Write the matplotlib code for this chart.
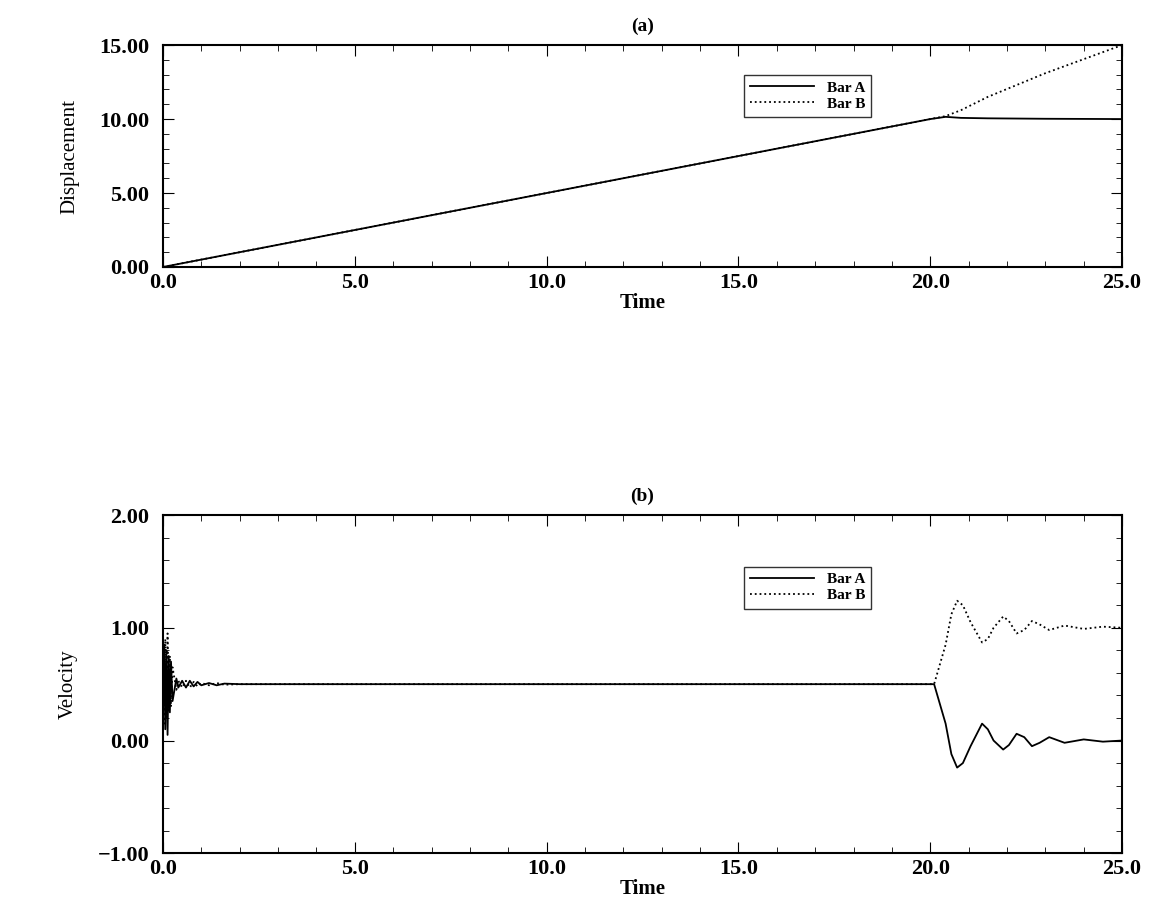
import matplotlib.pyplot as plt
from matplotlib.ticker import AutoMinorLocator

plt.rcParams['font.family'] = ['Liberation Serif', 'DejaVu Serif']
plt.rcParams['font.weight'] = 'bold'

# displacement
t_disp = [0.0, 5.0, 10.0, 15.0, 20.0, 20.4, 20.8, 21.5, 23.0, 25.0]
disp_a = [0.0, 2.5, 5.0, 7.5, 10.0, 10.15, 10.08, 10.05, 10.02, 10.0]
disp_b = [0.0, 2.5, 5.0, 7.5, 10.0, 10.2, 10.6, 11.5, 13.1, 15.0]

# velocity
t_vel = [0.0, 0.03, 0.06, 0.09, 0.12, 0.15, 0.18, 0.21, 0.25, 0.3, 0.35, 0.4, 0.5, 0.6, 0.7,
         0.8, 0.9, 1.0, 1.2, 1.4, 1.6, 2.0, 3.0, 20.1, 20.4, 20.55, 20.7, 20.85, 21.05, 21.35,
         21.5, 21.65, 21.9, 22.05, 22.25, 22.45, 22.65, 22.85, 23.1, 23.5, 24.0, 24.5, 25.0]
vel_a = [0.5, 0.85, 0.1, 0.8, 0.05, 0.75, 0.25, 0.7, 0.35, 0.45, 0.55, 0.47, 0.53, 0.47, 0.53,
         0.48, 0.52, 0.49, 0.51, 0.49, 0.505, 0.5, 0.5, 0.5, 0.15, -0.12, -0.24, -0.2, -0.05, 0.15,
         0.1, 0.0, -0.08, -0.04, 0.06, 0.03, -0.05, -0.02, 0.03, -0.02, 0.01, -0.01, 0.0]
vel_b = [0.5, 0.15, 0.9, 0.2, 0.95, 0.25, 0.75, 0.3, 0.65, 0.55, 0.45, 0.53, 0.47, 0.53, 0.47,
         0.52, 0.48, 0.51, 0.49, 0.51, 0.495, 0.5, 0.5, 0.5, 0.85, 1.12, 1.24, 1.2, 1.05, 0.87,
         0.9, 1.0, 1.1, 1.06, 0.95, 0.98, 1.06, 1.03, 0.98, 1.02, 0.99, 1.01, 1.0]

fig = plt.figure(figsize=(11.64, 9.02), dpi=100)
ax1 = fig.add_axes([0.140, 0.704, 0.824, 0.246])
ax2 = fig.add_axes([0.140, 0.054, 0.824, 0.375])

ax1.plot(t_disp, disp_a, 'k-', lw=1.3, label='Bar A')
ax1.plot(t_disp, disp_b, 'k:', lw=1.3, label='Bar B')
ax1.set_ylim(0, 15)
ax1.set_yticks([0, 5, 10, 15])
ax1.set_yticklabels(['0.00', '5.00', '10.00', '15.00'])
ax1.set_ylabel('Displacement', fontweight='normal', fontsize=15, labelpad=14)
ax1.set_title('(a)', fontsize=14, fontweight='bold', pad=10)
ax1.legend(loc='upper left', bbox_to_anchor=(0.598, 0.9), fancybox=False, edgecolor='k',
           fontsize=11, handlelength=4.2, borderpad=0.4, labelspacing=0.15)

ax2.plot(t_vel, vel_a, 'k-', lw=1.3, label='Bar A')
ax2.plot(t_vel, vel_b, 'k:', lw=1.3, label='Bar B')
ax2.set_ylim(-1, 2)
ax2.set_yticks([-1, 0, 1, 2])
ax2.set_yticklabels(['\u22121.00', '0.00', '1.00', '2.00'])
ax2.set_ylabel('Velocity', fontweight='normal', fontsize=15, labelpad=14)
ax2.set_title('(b)', fontsize=14, fontweight='bold', pad=10)
ax2.legend(loc='upper left', bbox_to_anchor=(0.598, 0.87), fancybox=False, edgecolor='k',
           fontsize=11, handlelength=4.2, borderpad=0.4, labelspacing=0.15)

for ax in (ax1, ax2):
    ax.set_xlim(0, 25)
    ax.set_xticks([0, 5, 10, 15, 20, 25])
    ax.set_xticklabels(['0.0', '5.0', '10.0', '15.0', '20.0', '25.0'])
    ax.set_xlabel('Time', fontsize=15, fontweight='bold', labelpad=0)
    ax.xaxis.set_minor_locator(AutoMinorLocator(5))
    ax.yaxis.set_minor_locator(AutoMinorLocator(5))
    ax.tick_params(which='both', direction='in', top=True, right=True, labelsize=16)
    ax.tick_params(which='major', length=8)
    ax.tick_params(which='minor', length=4)
    ax.tick_params(axis='y', pad=10)
    ax.tick_params(axis='x', pad=4)
    for s in ax.spines.values():
        s.set_linewidth(1.5)

fig.savefig('out.png', dpi=100)
